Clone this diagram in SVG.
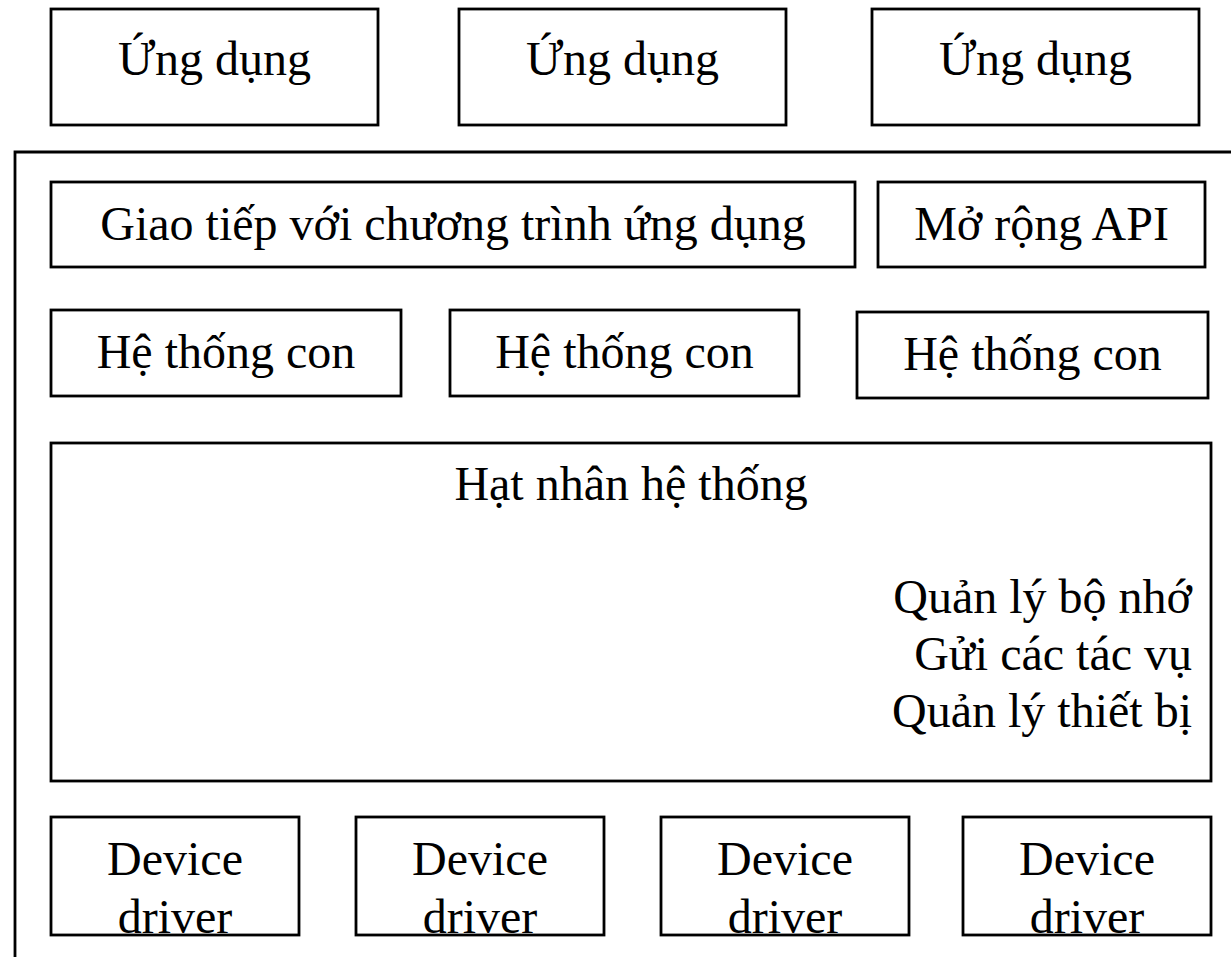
<svg xmlns="http://www.w3.org/2000/svg" width="1231" height="957" viewBox="0 0 1231 957">
  <style>
    .box { fill: #ffffff; stroke: #000000; stroke-width: 2.8; }
    .lbl { font-family: "Liberation Serif", "Times New Roman", serif; font-size: 48px; fill: #000000; }
    .mid { text-anchor: middle; }
    .end { text-anchor: end; }
    .frame { fill: none; stroke: #000000; stroke-width: 2.8; }
  </style>

  <rect width="1231" height="957" fill="#ffffff"/>

  <!-- applications above the system frame -->
  <g id="app1"><rect class="box" x="51" y="9" width="327" height="116"/><text class="lbl mid" x="214.5" y="75">Ứng dụng</text></g>
  <g id="app2"><rect class="box" x="459" y="9" width="327" height="116"/><text class="lbl mid" x="622.5" y="75">Ứng dụng</text></g>
  <g id="app3"><rect class="box" x="872" y="9" width="327" height="116"/><text class="lbl mid" x="1035.5" y="75">Ứng dụng</text></g>

  <!-- open frame of the operating system -->
  <g id="connectors">
    <path class="frame" d="M15,957 V152 H1231"/>
  </g>

  <g id="api"><rect class="box" x="51" y="182" width="804" height="85"/><text class="lbl mid" x="453" y="240">Giao tiếp với chương trình ứng dụng</text></g>
  <g id="api-ext"><rect class="box" x="878" y="182" width="327" height="85"/><text class="lbl mid" x="1041.5" y="240">Mở rộng API</text></g>

  <g id="sub1"><rect class="box" x="51" y="310" width="350" height="86"/><text class="lbl mid" x="226" y="368">Hệ thống con</text></g>
  <g id="sub2"><rect class="box" x="450" y="310" width="349" height="86"/><text class="lbl mid" x="624.5" y="368">Hệ thống con</text></g>
  <g id="sub3"><rect class="box" x="857" y="312" width="351" height="86"/><text class="lbl mid" x="1032.5" y="370">Hệ thống con</text></g>

  <g id="kernel">
    <rect class="box" x="51" y="443" width="1160" height="338"/>
    <text class="lbl mid" x="631" y="500">Hạt nhân hệ thống</text>
    <text class="lbl end" x="1192" y="613">Quản lý bộ nhớ</text>
    <text class="lbl end" x="1192" y="670">Gửi các tác vụ</text>
    <text class="lbl end" x="1192" y="727">Quản lý thiết bị</text>
  </g>

  <g id="drv1"><rect class="box" x="51" y="817" width="248" height="118"/><text class="lbl mid" x="175" y="875">Device</text><text class="lbl mid" x="175" y="933">driver</text></g>
  <g id="drv2"><rect class="box" x="356" y="817" width="248" height="118"/><text class="lbl mid" x="480" y="875">Device</text><text class="lbl mid" x="480" y="933">driver</text></g>
  <g id="drv3"><rect class="box" x="661" y="817" width="248" height="118"/><text class="lbl mid" x="785" y="875">Device</text><text class="lbl mid" x="785" y="933">driver</text></g>
  <g id="drv4"><rect class="box" x="963" y="817" width="248" height="118"/><text class="lbl mid" x="1087" y="875">Device</text><text class="lbl mid" x="1087" y="933">driver</text></g>
</svg>
